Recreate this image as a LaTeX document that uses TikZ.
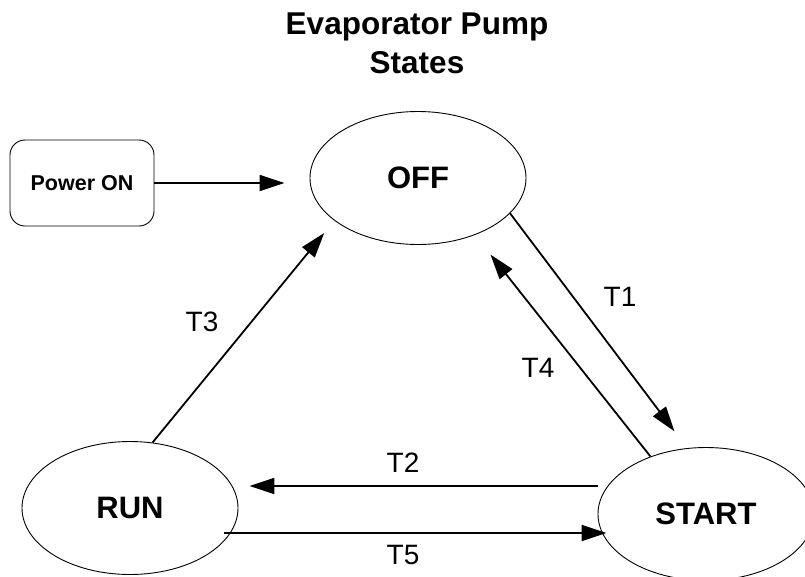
\documentclass[tikz,border=0pt]{standalone}
\usepackage{fontspec}
\setmainfont{Liberation Sans}
\usetikzlibrary{arrows.meta,shapes.geometric}

\begin{document}
\begin{tikzpicture}[x=1pt,y=-1pt,
  state/.style={draw,ellipse,line width=0.9pt,minimum width=216pt,minimum height=133pt,
    font=\fontsize{31}{37}\selectfont\bfseries},
  trans/.style={line width=1.8pt,-{Triangle[length=25pt,width=16pt]}},
  lbl/.style={font=\fontsize{28}{34}\selectfont}]
  \useasboundingbox (0,0) rectangle (805,576);
  % title
  \node[align=center,anchor=north,inner sep=0pt,font=\fontsize{31.5}{39}\selectfont\bfseries]
    (title) at (417,13) {Evaporator Pump\\States};
  % states
  \node[draw,rounded corners=15pt,line width=0.9pt,minimum width=144pt,minimum height=86pt,
    font=\fontsize{21.5}{26}\selectfont\bfseries] (pwr) at (82,183) {Power ON};
  \node[state] (off) at (418,178) {OFF};
  \node[state] (run) at (130,508) {RUN};
  \node[state] (start) at (706,514) {START};
  % transitions
  \draw[trans,shorten >=25pt] (pwr.east) -- (pwr.east -| off.west);
  \draw[trans,shorten >=21pt] (off.-21) -- (start.106);
  \draw[trans,shorten >=25pt] (start.134) -- (off.-45);
  \draw[trans,shorten >=16pt] (run.71) -- (off.207);
  \draw[trans] ([yshift=28pt]start.west) -- ([xshift=11pt,yshift=22pt]run.east);
  \draw[trans] ([xshift=-14pt,yshift=-25pt]run.east) -- ([xshift=9pt,yshift=-19pt]start.west);
  % labels
  \node[lbl] (t1) at (620,297) {T1};
  \node[lbl] (t2) at (403,463) {T2};
  \node[lbl] (t3) at (202,322) {T3};
  \node[lbl] (t4) at (538,368) {T4};
  \node[lbl] (t5) at (403,555) {T5};
\end{tikzpicture}
\end{document}
